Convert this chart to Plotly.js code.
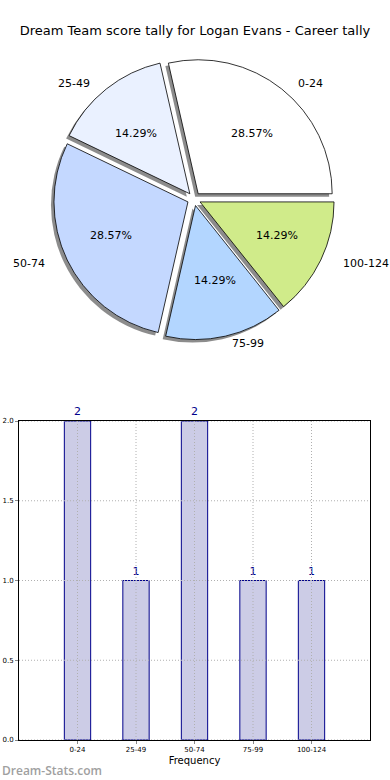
<!DOCTYPE html>
<html>
<head>
<meta charset="utf-8">
<script src="https://cdn.plot.ly/plotly-3.0.1.min.js"></script>
<style>html,body{margin:0;padding:0;background:#fff;}#chart{width:390px;height:780px;}</style>
</head>
<body>
<div id="chart"></div>
<script>
// ---- data ----
var categories = ["0-24", "25-49", "50-74", "75-99", "100-124"];
var counts = [2, 1, 2, 1, 1];
var sliceColors = ["#ffffff", "#eaf1ff", "#c4d8ff", "#b3d6ff", "#d0eb8a"];
var yTicks = [0, 0.5, 1, 1.5, 2];
var titleText = "Dream Team score tally for Logan Evans - Career tally";
var xTitle = "Frequency";
var watermark = "Dream-Stats.com";

var FONT = "DejaVu Sans, sans-serif";
var W = 390, H = 780;
// pie geometry (pixels)
var cx = 194, cy = 199, R = 134, pullAmt = 0.05;
var half = R * (1 + pullAmt);
function dom(dx, dy) {
  return {
    x: [(cx + dx - half) / W, (cx + dx + half) / W],
    y: [1 - (cy + dy + half) / H, 1 - (cy + dy - half) / H]
  };
}
var total = counts.reduce(function (a, b) { return a + b; }, 0);
var rot = 90 - 360 * counts[0] / total;   // first slice starts at 3 o'clock, counterclockwise
var pulls = categories.map(function () { return pullAmt; });

var shadow = {
  type: "pie", labels: categories, values: counts, sort: false,
  direction: "counterclockwise", rotation: rot, pull: pulls,
  domain: dom(-3, 3), textinfo: "none", hoverinfo: "skip", showlegend: false,
  marker: { colors: categories.map(function () { return "rgba(0,0,0,0.45)"; }), line: { width: 0 } }
};
var main = {
  type: "pie", labels: categories, values: counts, sort: false,
  direction: "counterclockwise", rotation: rot, pull: pulls,
  domain: dom(0, 0), showlegend: false, textinfo: "none",
  marker: { colors: sliceColors, line: { color: "#000", width: 0.8 } }
};
var bars = {
  type: "bar", x: categories, y: counts, width: 0.45,
  xaxis: "x", yaxis: "y",
  marker: { color: "#cccce6", line: { color: "#00008b", width: 1 } },
  text: counts.map(String), textposition: "outside", cliponaxis: false,
  textfont: { family: FONT, size: 11, color: "#00008b" },
  showlegend: false
};

// text labels for slices (matplotlib style: label at 1.1r, pct at 0.6r from exploded centre)
var annotations = [];
var rxL = 142, ryL = 129;
var acc = 0;
counts.forEach(function (v, i) {
  var mid = (acc + v / 2) / total * 2 * Math.PI;
  acc += v;
  var c = Math.cos(mid), s = Math.sin(mid);
  var lx = cx + rxL * (1.1 + pullAmt) * c, ly = cy - ryL * (1.1 + pullAmt) * s;
  annotations.push({
    text: categories[i], xref: "paper", yref: "paper",
    x: lx / W, y: 1 - ly / H, xanchor: c > 0 ? "left" : "right", yanchor: "middle",
    showarrow: false, font: { family: FONT, size: 11, color: "#000" }
  });
  var px = cx + rxL * (0.6 + pullAmt) * c, py = cy - ryL * (0.6 + pullAmt) * s;
  annotations.push({
    text: (v / total * 100).toFixed(2) + "%", xref: "paper", yref: "paper",
    x: px / W, y: 1 - py / H, xanchor: "center", yanchor: "middle",
    showarrow: false, font: { family: FONT, size: 11, color: "#000" }
  });
});
annotations.push({
  text: watermark, xref: "paper", yref: "paper",
  x: 0, xanchor: "left", y: 1 - 770 / H, yanchor: "middle", showarrow: false,
  font: { family: "Open Sans, sans-serif", size: 12, weight: 600, color: "#a0a0a0" }
});

// dotted grid drawn above the bars (as in the reference)
var gridLine = { color: "#b0b0b0", width: 1, dash: "1px,2px" };
var shapes = [];
categories.forEach(function (cat, i) {
  shapes.push({ type: "line", layer: "above", xref: "x", yref: "y domain",
    x0: i, x1: i, y0: 0, y1: 1, line: gridLine });
});
yTicks.forEach(function (t) {
  shapes.push({ type: "line", layer: "above", xref: "x domain", yref: "y",
    x0: 0, x1: 1, y0: t, y1: t, line: gridLine });
});

var layout = {
  width: W, height: H,
  margin: { l: 0, r: 0, t: 0, b: 0 },
  paper_bgcolor: "#fff", plot_bgcolor: "#fff",
  font: { family: FONT, color: "#000" },
  title: { text: titleText, x: 0.5, xanchor: "center", y: 1 - 30 / H, yanchor: "middle",
           font: { family: FONT, size: 13, color: "#000" } },
  xaxis: {
    domain: [19 / W, 370 / W], range: [-1, 5], type: "category",
    showgrid: false,
    showline: true, linecolor: "#000", linewidth: 1, mirror: true,
    ticks: "outside", ticklen: 3, tickcolor: "#888",
    tickfont: { family: FONT, size: 7, color: "#000" },
    title: { text: xTitle, font: { family: FONT, size: 10, color: "#000" }, standoff: 3 },
    layer: "above traces", zeroline: false, fixedrange: true
  },
  yaxis: {
    domain: [1 - 740 / H, 1 - 421 / H], range: [0, 2],
    tickvals: yTicks, tickformat: ".1f",
    showgrid: false,
    showline: true, linecolor: "#000", linewidth: 1, mirror: true,
    ticks: "outside", ticklen: 3, tickcolor: "#888",
    tickfont: { family: FONT, size: 7, color: "#000" },
    layer: "above traces", zeroline: false, fixedrange: true
  },
  shapes: shapes,
  annotations: annotations
};

Plotly.newPlot("chart", [shadow, main, bars], layout, { displayModeBar: false, staticPlot: true });
</script>
</body>
</html>
